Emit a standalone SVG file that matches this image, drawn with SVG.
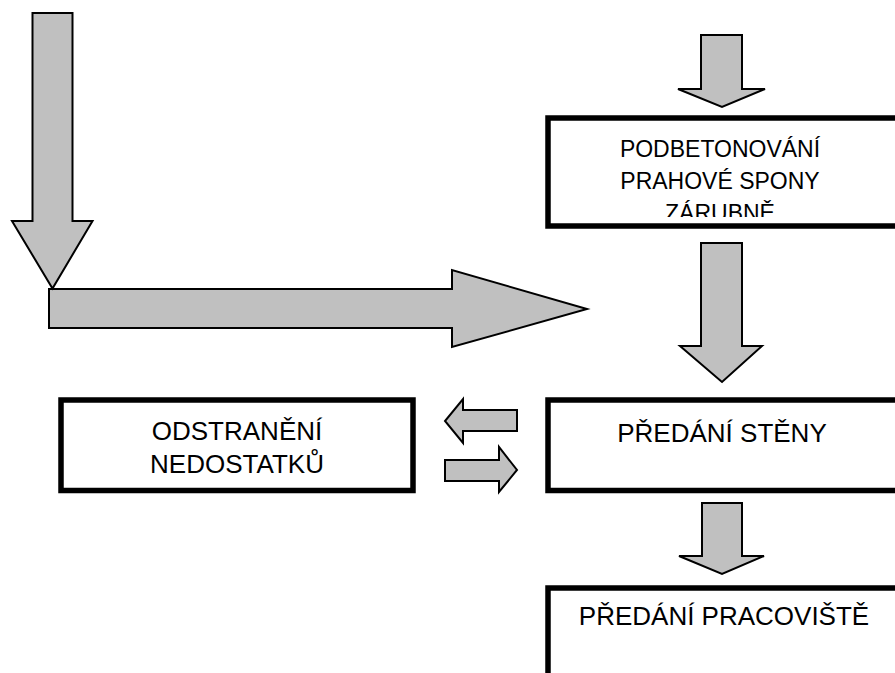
<svg xmlns="http://www.w3.org/2000/svg" width="895" height="673" viewBox="0 0 895 673">
  <style>
    .arrow { fill: #c0c0c0; stroke: #000; stroke-width: 2; stroke-linejoin: miter; }
    .box { fill: #fff; stroke: #000; stroke-width: 5.5; }
    .label { font-family: "Liberation Sans", Arial, sans-serif; fill: #000; text-anchor: middle; }
    .big { font-size: 26px; }
    .small { font-size: 23px; }
  </style>
  <defs>
    <clipPath id="clip-box1">
      <rect x="551" y="121" width="350" height="96"/>
    </clipPath>
  </defs>
  <rect width="895" height="673" fill="#fff"/>

  <g id="connectors">
    <!-- long L-shaped feed: horizontal arrow towards the right column -->
    <path class="arrow" d="M49,289 L452,289 L452,270 L587,309 L452,347 L452,328 L49,328 Z"/>
    <!-- long vertical arrow on the left -->
    <path class="arrow" d="M32.5,13 L72.5,13 L72.5,221 L92.5,221 L52.5,288.5 L12,221 L32.5,221 Z"/>
    <!-- top arrow into the first box -->
    <path class="arrow" d="M701,35 L742,35 L742,89 L765,89 L722,107 L678,89 L701,89 Z"/>
    <!-- first box to handover of wall -->
    <path class="arrow" d="M701,243 L742,243 L742,346 L762,346 L722,382 L680,346 L701,346 Z"/>
    <!-- handover of wall to handover of site -->
    <path class="arrow" d="M702,503 L742,503 L742,556 L764,556 L722,574 L679,556 L702,556 Z"/>
    <!-- back arrow towards defect removal -->
    <path class="arrow" d="M517,410 L463,410 L463,399 L445,421 L463,443 L463,431 L517,431 Z"/>
    <!-- forward arrow back to the handover -->
    <path class="arrow" d="M445,460 L499,460 L499,447 L517,470 L499,492 L499,481 L445,481 Z"/>
  </g>

  <g id="node-podbetonovani">
    <rect class="box" x="548" y="118" width="360" height="108"/>
    <g clip-path="url(#clip-box1)">
      <text class="label small" x="720" y="157">PODBETONOVÁNÍ</text>
      <text class="label small" x="720" y="189">PRAHOVÉ SPONY</text>
      <text class="label small" x="720" y="221">ZÁRUBNĚ</text>
    </g>
  </g>

  <g id="node-odstraneni">
    <rect class="box" x="61" y="400" width="352" height="90.5"/>
    <text class="label big" x="237" y="440">ODSTRANĚNÍ</text>
    <text class="label big" x="237" y="473">NEDOSTATKŮ</text>
  </g>

  <g id="node-predani-steny">
    <rect class="box" x="548" y="400" width="360" height="90.5"/>
    <text class="label big" x="722" y="442">PŘEDÁNÍ STĚNY</text>
  </g>

  <g id="node-predani-pracoviste">
    <rect class="box" x="548" y="588" width="360" height="120"/>
    <text class="label big" x="724" y="625">PŘEDÁNÍ PRACOVIŠTĚ</text>
  </g>
</svg>
